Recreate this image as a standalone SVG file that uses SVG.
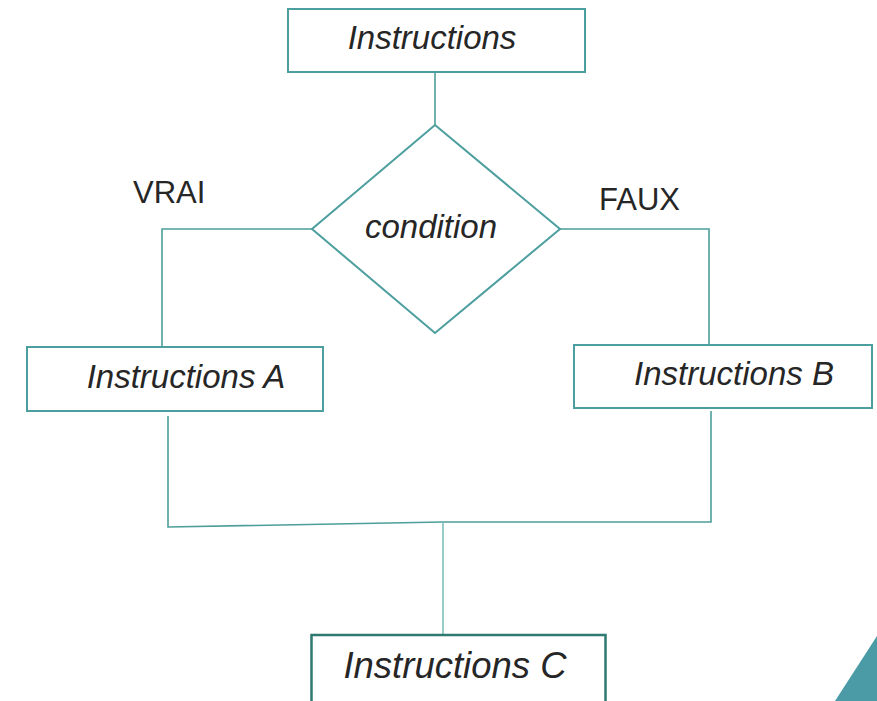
<svg xmlns="http://www.w3.org/2000/svg" width="877" height="701" viewBox="0 0 877 701">
<style>
.box{fill:#fff;stroke:#4d9e9e;stroke-width:2}
.boxc{fill:#fff;stroke:#2f7a70;stroke-width:2.5}
.ln{fill:none;stroke:#4d9e9a;stroke-width:1.6}
.t{font-family:"Liberation Sans",Arial,sans-serif;font-style:italic;font-size:33px;fill:#262626;text-anchor:middle}
.tc{font-size:36.5px}
.lb{font-family:"Liberation Sans",Arial,sans-serif;font-size:31px;fill:#262626}
</style>
<rect width="877" height="701" fill="#fff"/>
<g id="connectors">
<path class="ln" d="M435,72 V125"/>
<path class="ln" d="M312,229 H162 V347"/>
<path class="ln" d="M560,229 H709 V345"/>
<path class="ln" d="M168,416 V527 L443,522 H711 V411"/>
<path class="ln" d="M443,522 V634" style="stroke:#7fc0bb"/>
</g>
<g id="node-instructions">
<rect class="box" x="288" y="9" width="297" height="63"/>
<text class="t" x="432" y="49">Instructions</text>
</g>
<g id="node-condition">
<polygon class="box" points="435,125 560,229 435,333 312,229"/>
<text class="t" x="431" y="238">condition</text>
</g>
<g id="label-vrai"><text class="lb" x="133" y="203">VRAI</text></g>
<g id="label-faux"><text class="lb" x="599" y="210">FAUX</text></g>
<g id="node-a">
<rect class="box" x="27" y="347" width="296" height="64"/>
<text class="t" x="186" y="388">Instructions A</text>
</g>
<g id="node-b">
<rect class="box" x="574" y="345" width="298" height="63"/>
<text class="t" x="734" y="385">Instructions B</text>
</g>
<g id="node-c">
<rect class="boxc" x="311.5" y="635" width="294" height="80"/>
<text class="t tc" x="455" y="678">Instructions C</text>
</g>
<polygon points="835,701 877,636 877,701" fill="#4a9ba5"/>
</svg>
